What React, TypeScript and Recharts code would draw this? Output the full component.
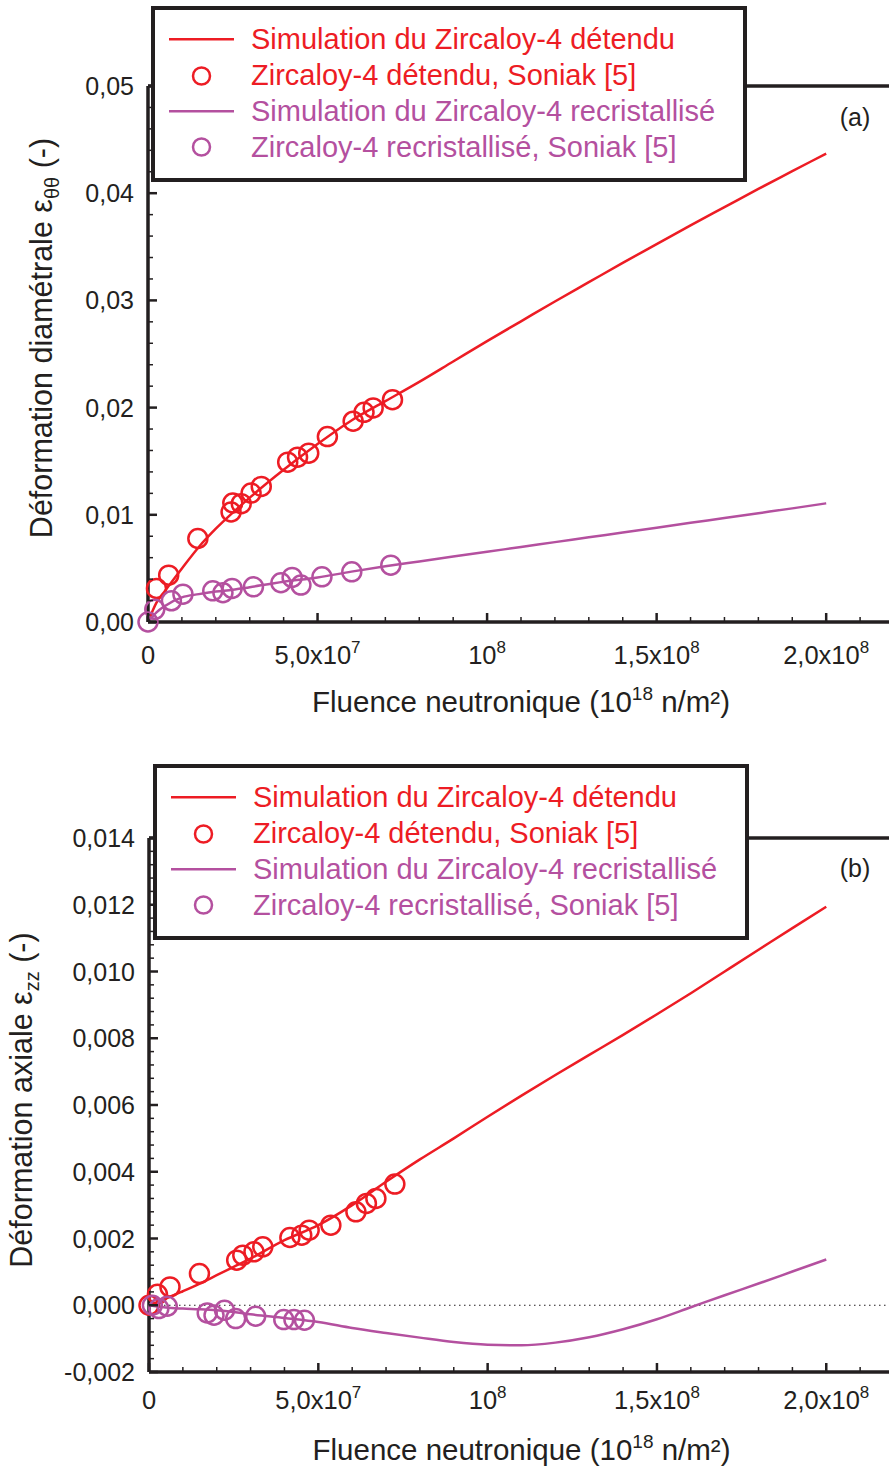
import React from 'react';
import { ComposedChart, Line, Scatter, XAxis, YAxis, ReferenceLine } from 'recharts';

const RED = '#ED1C24';
const PURPLE = '#B4509F';
const INK = '#231F20';
const FONT = '"Liberation Sans", Arial, Helvetica, sans-serif';

// ---------- axes ----------
const xDomain = [0, 2.2e8];
const xMajorTicks = [0, 5e7, 1e8, 1.5e8, 2e8];
const xTickBase = ['0', '5,0x10', '10', '1,5x10', '2,0x10'];
const xTickExp = ['', '7', '8', '8', '8'];
const xAllTicks = Array.from({ length: 23 }, (_, i) => i * 1e7);

const yDomainA = [0, 0.05];
const yMajorA = [0, 0.01, 0.02, 0.03, 0.04, 0.05];
const yLabelsA = ['0,00', '0,01', '0,02', '0,03', '0,04', '0,05'];
const yAllA = Array.from({ length: 26 }, (_, i) => i * 0.002);

const yDomainB = [-0.002, 0.014];
const yMajorB = [-0.002, 0, 0.002, 0.004, 0.006, 0.008, 0.01, 0.012, 0.014];
const yLabelsB = ['-0,002', '0,000', '0,002', '0,004', '0,006', '0,008', '0,010', '0,012', '0,014'];
const yAllB = Array.from({ length: 41 }, (_, i) => -0.002 + i * 0.0004);

const legendLabels = [
  'Simulation du Zircaloy-4 détendu',
  'Zircaloy-4 détendu, Soniak [5]',
  'Simulation du Zircaloy-4 recristallisé',
  'Zircaloy-4 recristallisé, Soniak [5]',
];

// ---------- simulations (fluence in 10^18 n/m²) ----------
const simFluence = [0, 0.25e7, 0.5e7, 1e7, 1.5e7, 2e7, 2.5e7, 3e7, 4e7, 5e7, 6e7, 7e7, 8e7, 9e7, 1e8, 1.1e8, 1.2e8, 1.3e8, 1.4e8, 1.5e8, 1.6e8, 1.7e8, 1.8e8, 1.9e8, 2e8];
const simDetenduA = [0, 0.0018, 0.0029, 0.005, 0.007, 0.0087, 0.0102, 0.0116, 0.0142, 0.0166, 0.0188, 0.0206, 0.0224, 0.0243, 0.0262, 0.02805, 0.0299, 0.0317, 0.0335, 0.03525, 0.037, 0.0387, 0.0404, 0.04205, 0.0437];
const simRecristA = [0, 0.0009, 0.0015, 0.0023, 0.0026, 0.00285, 0.003, 0.00325, 0.00375, 0.00415, 0.0047, 0.0052, 0.00565, 0.0061, 0.00655, 0.007, 0.00745, 0.0079, 0.00835, 0.0088, 0.00925, 0.0097, 0.01015, 0.0106, 0.01107];
const simDetenduB = [0, 0.0001, 0.0002, 0.00042, 0.00065, 0.0009, 0.00115, 0.0014, 0.00195, 0.0024, 0.003, 0.0037, 0.00437, 0.005, 0.00565, 0.00628, 0.0069, 0.0075, 0.0081, 0.00872, 0.00935, 0.01, 0.01065, 0.0113, 0.01194];
const simRecristB = [0, -0.00004, -0.00007, -0.0001, -0.00012, -0.00015, -0.0002, -0.00027, -0.00038, -0.0005, -0.00068, -0.00083, -0.00097, -0.0011, -0.00118, -0.0012, -0.00112, -0.00096, -0.00072, -0.00042, -0.00006, 0.0003, 0.00065, 0.00101, 0.00137];

// ---------- experiments (Soniak [5]) ----------
const expDetenduFluenceA = [0.25e7, 0.61e7, 1.47e7, 2.45e7, 2.5e7, 2.75e7, 3.04e7, 3.34e7, 4.12e7, 4.41e7, 4.74e7, 5.29e7, 6.05e7, 6.37e7, 6.64e7, 7.21e7];
const expDetenduA = [0.00313, 0.00437, 0.00779, 0.01026, 0.0111, 0.01104, 0.01203, 0.01265, 0.01491, 0.01538, 0.01575, 0.0173, 0.01873, 0.01956, 0.01997, 0.02074];
const expRecristFluenceA = [0, 0.2e7, 0.69e7, 1.03e7, 1.91e7, 2.21e7, 2.48e7, 3.11e7, 3.92e7, 4.25e7, 4.51e7, 5.13e7, 6.01e7, 7.16e7];
const expRecristA = [0, 0.00118, 0.00198, 0.0026, 0.00291, 0.00273, 0.00313, 0.00328, 0.00366, 0.00416, 0.00344, 0.00421, 0.00468, 0.0053];

const expDetenduFluenceB = [0, 0.25e7, 0.62e7, 1.49e7, 2.59e7, 2.77e7, 3.1e7, 3.36e7, 4.16e7, 4.51e7, 4.73e7, 5.37e7, 6.11e7, 6.42e7, 6.7e7, 7.26e7];
const expDetenduB = [0, 0.00033, 0.00055, 0.00095, 0.00135, 0.0015, 0.0016, 0.00175, 0.00203, 0.0021, 0.00225, 0.0024, 0.0028, 0.00305, 0.0032, 0.00363];
const expRecristFluenceB = [0.1e7, 0.29e7, 0.54e7, 1.72e7, 1.92e7, 2.23e7, 2.56e7, 3.15e7, 3.98e7, 4.28e7, 4.59e7];
const expRecristB = [0, -0.0001, -0.00003, -0.00023, -0.0003, -0.00015, -0.0004, -0.00033, -0.00043, -0.00043, -0.00045];

const toPts = (xs: number[], ys: number[]) => xs.map((x, i) => ({ x, y: ys[i] }));

// ---------- tick renderers ----------
const bottomTick = (labelDy: number) => (props: any) => {
  const { x, y, payload } = props;
  const mi = xMajorTicks.findIndex((t) => Math.abs(t - payload.value) < 1);
  const major = mi >= 0;
  return (
    <g>
      <line x1={x} x2={x} y1={y} y2={y - (major ? 9 : 5)} stroke={INK} strokeWidth={major ? 2.5 : 1.5} />
      {major && (
        <text x={x} y={y + labelDy} textAnchor="middle" fontSize={25.5} fill={INK} fontFamily={FONT}>
          {xTickBase[mi]}
          {xTickExp[mi] ? <tspan dy={-11} fontSize={17}>{xTickExp[mi]}</tspan> : null}
        </text>
      )}
    </g>
  );
};

const topTick = (props: any) => {
  const { x, y, payload } = props;
  const major = xMajorTicks.some((t) => Math.abs(t - payload.value) < 1);
  return <line x1={x} x2={x} y1={y} y2={y + (major ? 9 : 5)} stroke={INK} strokeWidth={major ? 2.5 : 1.5} />;
};

const leftTick = (majors: number[], labels: string[]) => (props: any) => {
  const { x, y, payload } = props;
  const mi = majors.findIndex((t) => Math.abs(t - payload.value) < 1e-9);
  const major = mi >= 0;
  return (
    <g>
      <line x1={x} x2={x + (major ? 9 : 5)} y1={y} y2={y} stroke={INK} strokeWidth={major ? 2.5 : 1.5} />
      {major && (
        <text x={x - 14} y={y} dy="0.36em" textAnchor="end" fontSize={25} fill={INK} fontFamily={FONT}>
          {labels[mi]}
        </text>
      )}
    </g>
  );
};

const rightTick = (props: any) => {
  const { x, y } = props;
  return <line x1={x} x2={x - 9} y1={y} y2={y} stroke={INK} strokeWidth={2.5} />;
};

const xTitle = (dy: number) => (props: any) => {
  const vb = props.viewBox || {};
  const cx = vb.x + vb.width / 2;
  const by = vb.y + dy;
  return (
    <text x={cx} y={by} textAnchor="middle" fontSize={29.5} fill={INK} fontFamily={FONT}>
      Fluence neutronique (10
      <tspan dy={-12} fontSize={19}>18</tspan>
      <tspan dy={12}> n/m²)</tspan>
    </text>
  );
};

const yTitle = (main: string, sub: string, dx: number, dy: number) => (props: any) => {
  const vb = props.viewBox || {};
  const cx = vb.x + (vb.width || 0) - dx;
  const cy = vb.y + vb.height / 2 + dy;
  return (
    <text
      transform={`rotate(-90 ${cx} ${cy})`}
      x={cx}
      y={cy + 10}
      textAnchor="middle"
      fontSize={30.5}
      fill={INK}
      fontFamily={FONT}
    >
      {main}
      <tspan dy={7} fontSize={20}>{sub}</tspan>
      <tspan dy={-7}> (-)</tspan>
    </text>
  );
};

const ring = (color: string) => (p: any) => (
  <circle cx={p.cx} cy={p.cy} r={9.5} fill="none" stroke={color} strokeWidth={2.5} />
);

type PanelProps = {
  height: number;
  plotTop: number;
  plotLeft: number;
  plotBottom: number;
  yDomain: number[];
  yMajor: number[];
  yLabels: string[];
  yAll: number[];
  simDet: number[];
  simRec: number[];
  expDet: { x: number; y: number }[];
  expRec: { x: number; y: number }[];
  titleMain: string;
  titleSub: string;
  titleDx: number;
  titleDy: number;
  xLabelDy: number;
  xTitleDy: number;
  zeroLine: boolean;
};

const CHART_W = 1000;
const PLOT_RIGHT = 894;
const AX = 1; // size given to each axis band
const AXIS_LINE = { stroke: INK, strokeWidth: 3.5 };

function Panel(p: PanelProps) {
  return (
    <ComposedChart
      width={CHART_W}
      height={p.height}
      margin={{
        top: p.plotTop - AX,
        right: CHART_W - PLOT_RIGHT - AX,
        bottom: p.height - p.plotBottom - AX,
        left: p.plotLeft - AX,
      }}
    >
      <XAxis
        xAxisId="b"
        dataKey="x"
        type="number"
        domain={xDomain}
        ticks={xAllTicks}
        interval={0}
        height={AX}
        tickSize={0}
        tickMargin={0}
        tickLine={false}
        axisLine={AXIS_LINE}
        tick={bottomTick(p.xLabelDy)}
        label={xTitle(p.xTitleDy)}
      />
      <XAxis
        xAxisId="t"
        orientation="top"
        dataKey="x"
        type="number"
        domain={xDomain}
        ticks={xAllTicks}
        interval={0}
        height={AX}
        tickSize={0}
        tickMargin={0}
        tickLine={false}
        axisLine={AXIS_LINE}
        tick={topTick}
      />
      <YAxis
        yAxisId="l"
        dataKey="y"
        type="number"
        domain={p.yDomain}
        ticks={p.yAll}
        interval={0}
        width={AX}
        tickSize={0}
        tickMargin={0}
        tickLine={false}
        axisLine={AXIS_LINE}
        tick={leftTick(p.yMajor, p.yLabels)}
        label={yTitle(p.titleMain, p.titleSub, p.titleDx, p.titleDy)}
      />
      <YAxis
        yAxisId="r"
        orientation="right"
        dataKey="y"
        type="number"
        domain={p.yDomain}
        ticks={p.yMajor}
        interval={0}
        width={AX}
        tickSize={0}
        tickMargin={0}
        tickLine={false}
        axisLine={AXIS_LINE}
        tick={rightTick}
      />
      {p.zeroLine && (
        <ReferenceLine xAxisId="b" yAxisId="l" y={0} stroke={INK} strokeWidth={1.2} strokeDasharray="1.5 3.5" />
      )}
      <Line
        xAxisId="b"
        yAxisId="l"
        data={toPts(simFluence, p.simDet)}
        dataKey="y"
        type="monotone"
        stroke={RED}
        strokeWidth={2.5}
        dot={false}
        activeDot={false}
        isAnimationActive={false}
      />
      <Line
        xAxisId="b"
        yAxisId="l"
        data={toPts(simFluence, p.simRec)}
        dataKey="y"
        type="monotone"
        stroke={PURPLE}
        strokeWidth={2.5}
        dot={false}
        activeDot={false}
        isAnimationActive={false}
      />
      <Scatter xAxisId="b" yAxisId="l" data={p.expDet} dataKey="y" shape={ring(RED)} isAnimationActive={false} />
      <Scatter xAxisId="b" yAxisId="l" data={p.expRec} dataKey="y" shape={ring(PURPLE)} isAnimationActive={false} />
    </ComposedChart>
  );
}

function LegendBox({ left, top }: { left: number; top: number }) {
  const colors = [RED, RED, PURPLE, PURPLE];
  const baselines = [42.5, 78.5, 114.5, 150.5];
  return (
    <g transform={`translate(${left},${top})`}>
      <rect x={2} y={2} width={592} height={172} fill="#fff" stroke={INK} strokeWidth={4} />
      <line x1={18} x2={83} y1={33.3} y2={33.3} stroke={RED} strokeWidth={2.5} />
      <circle cx={50.5} cy={70} r={8.5} fill="none" stroke={RED} strokeWidth={2.5} />
      <line x1={18} x2={83} y1={105.3} y2={105.3} stroke={PURPLE} strokeWidth={2.5} />
      <circle cx={50.5} cy={141} r={8.5} fill="none" stroke={PURPLE} strokeWidth={2.5} />
      {legendLabels.map((t, i) => (
        <text key={i} x={100} y={baselines[i]} fill={colors[i]} fontSize={29} fontFamily={FONT}>
          {t}
        </text>
      ))}
    </g>
  );
}

export default function App() {
  return (
    <div
      style={{
        position: 'absolute',
        left: 0,
        top: 0,
        width: 889,
        height: 1470,
        overflow: 'hidden',
        background: '#fff',
        fontFamily: FONT,
      }}
    >
      <div style={{ position: 'absolute', left: 0, top: 0 }}>
        <Panel
          height={750}
          plotTop={86}
          plotLeft={148}
          plotBottom={622}
          yDomain={yDomainA}
          yMajor={yMajorA}
          yLabels={yLabelsA}
          yAll={yAllA}
          simDet={simDetenduA}
          simRec={simRecristA}
          expDet={toPts(expDetenduFluenceA, expDetenduA)}
          expRec={toPts(expRecristFluenceA, expRecristA)}
          titleMain="Déformation diamétrale ε"
          titleSub="θθ"
          titleDx={106}
          titleDy={-16}
          xLabelDy={42}
          xTitleDy={90}
          zeroLine={false}
        />
      </div>
      <div style={{ position: 'absolute', left: 0, top: 750 }}>
        <Panel
          height={720}
          plotTop={88}
          plotLeft={149}
          plotBottom={622}
          yDomain={yDomainB}
          yMajor={yMajorB}
          yLabels={yLabelsB}
          yAll={yAllB}
          simDet={simDetenduB}
          simRec={simRecristB}
          expDet={toPts(expDetenduFluenceB, expDetenduB)}
          expRec={toPts(expRecristFluenceB, expRecristB)}
          titleMain="Déformation axiale ε"
          titleSub="zz"
          titleDx={127}
          titleDy={-5}
          xLabelDy={37}
          xTitleDy={88}
          zeroLine={true}
        />
      </div>
      <svg
        width={889}
        height={1470}
        style={{ position: 'absolute', left: 0, top: 0, pointerEvents: 'none' }}
      >
        <LegendBox left={151} top={6} />
        <LegendBox left={153} top={764} />
        <text x={855} y={126} textAnchor="middle" fontSize={25} fill={INK} fontFamily={FONT}>(a)</text>
        <text x={855} y={877} textAnchor="middle" fontSize={25} fill={INK} fontFamily={FONT}>(b)</text>
      </svg>
    </div>
  );
}
